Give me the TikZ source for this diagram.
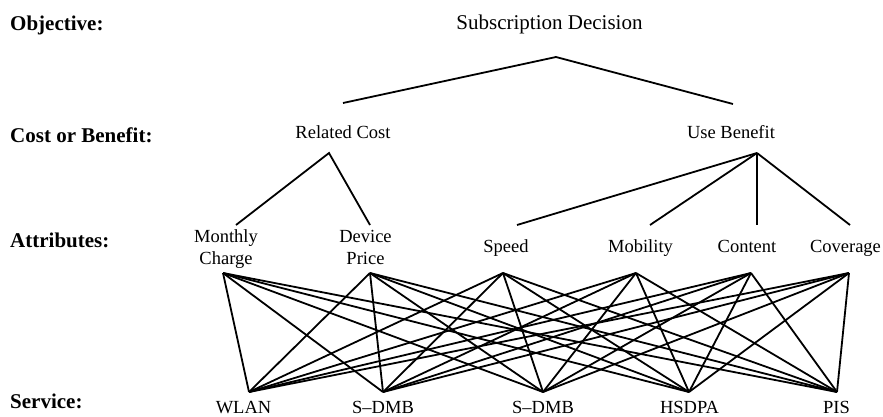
\documentclass[tikz,border=0pt]{standalone}
\usepackage{fontspec}
\setmainfont{Liberation Serif}
\begin{document}
\begin{tikzpicture}[x=1pt,y=-1pt,
  lbl/.style={anchor=base west,font=\fontsize{21}{24}\selectfont\bfseries,inner sep=0pt},
  txt/.style={anchor=base,font=\fontsize{18.5}{22}\selectfont,inner sep=0pt,align=center},
  srv/.style={txt,text depth=0pt},
  big/.style={anchor=base,font=\fontsize{21}{24}\selectfont,inner sep=0pt},
  link/.style={line width=1.8pt,line join=miter}]
\useasboundingbox (0,0) rectangle (883,416);
% level labels
\node[lbl] (lobj) at (10,30) {Objective:};
\node[lbl] (lcb)  at (10,142) {Cost or Benefit:};
\node[lbl] (latt) at (10,247) {Attributes:};
\node[lbl,text depth=0pt] (lsrv) at (10,408) {Service:};
% text nodes
\node[big] (sd) at (549.5,29) {Subscription Decision};
\node[txt] (rc) at (343,138) {Related Cost};
\node[txt] (ub) at (731,138) {Use Benefit};
\node[txt] (mc) at (226,264) {Monthly\\Charge};
\node[txt] (dp) at (365.5,264) {Device\\Price};
\node[txt] (sp) at (506,252) {Speed};
\node[txt] (mo) at (640.5,252) {Mobility};
\node[txt] (co) at (747,252) {Content};
\node[txt] (cv) at (845.5,252) {Coverage};
\node[srv] (wl) at (243.5,413) {WLAN};
\node[srv] (s1) at (383,413) {S–DMB};
\node[srv] (s2) at (543,413) {S–DMB};
\node[srv] (hs) at (689.5,413) {HSDPA};
\node[srv] (pi) at (836.5,413) {PIS};
% attachment points
\coordinate (sd-b) at (556,57);
\coordinate (rc-t) at (343,103);
\coordinate (ub-t) at (733,104);
\coordinate (rc-b) at (329,153);
\coordinate (ub-b) at (757,153);
\coordinate (mc-t) at (236,225);
\coordinate (dp-t) at (370,225);
\coordinate (sp-t) at (517,225);
\coordinate (mo-t) at (650,225);
\coordinate (co-t) at (757,225);
\coordinate (cv-t) at (850,225);
\coordinate (mc-b) at (223,273);
\coordinate (dp-b) at (370,273);
\coordinate (sp-b) at (503,273);
\coordinate (mo-b) at (636,273);
\coordinate (co-b) at (751,273);
\coordinate (cv-b) at (849,273);
\coordinate (wl-t) at (249,392);
\coordinate (s1-t) at (383,392);
\coordinate (s2-t) at (543,392);
\coordinate (hs-t) at (689,392);
\coordinate (pi-t) at (837,392);
% hierarchy
\draw[link] (rc-t) -- (sd-b) -- (ub-t);
\draw[link] (mc-t) -- (rc-b) -- (dp-t);
\foreach \a in {sp,mo,co,cv} \draw[link] (ub-b) -- (\a-t);
% attributes to services
\foreach \a in {mc,dp,sp,mo,co,cv}
  \foreach \s in {wl,s1,s2,hs,pi}
    \draw[link] (\a-b) -- (\s-t);
\end{tikzpicture}
\end{document}
